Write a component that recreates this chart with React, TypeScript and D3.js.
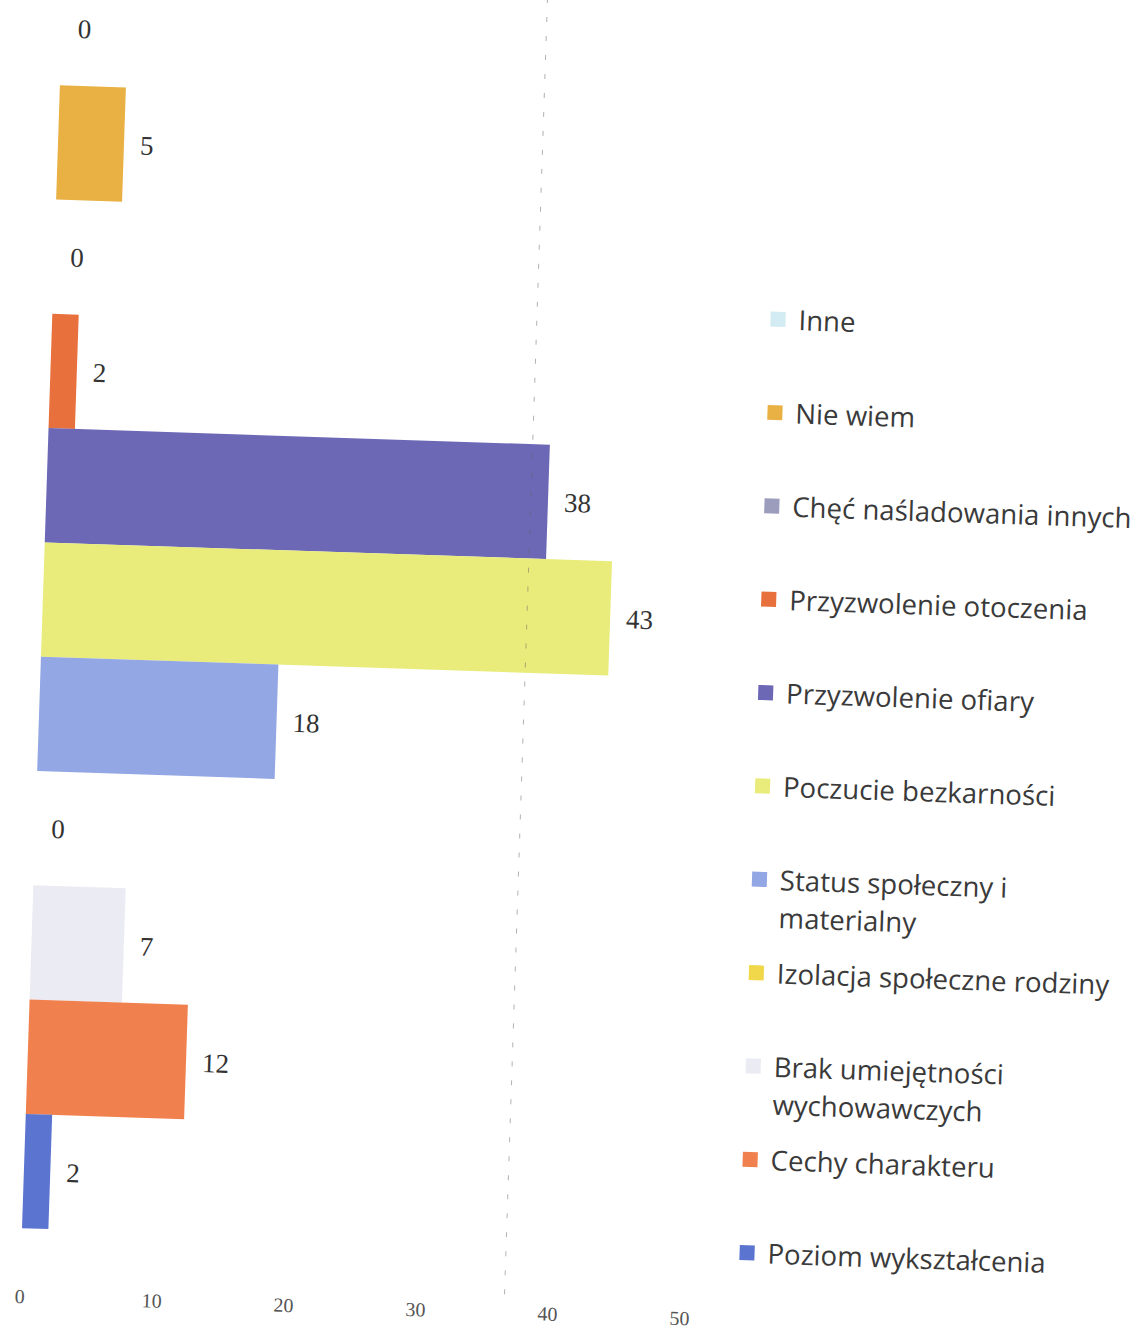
import React, { useEffect, useRef } from 'react';
import * as d3 from 'd3';

const categories = [
  'Inne',
  'Nie wiem',
  'Chęć naśladowania innych',
  'Przyzwolenie otoczenia',
  'Przyzwolenie ofiary',
  'Poczucie bezkarności',
  'Status społeczny i materialny',
  'Izolacja społeczne rodziny',
  'Brak umiejętności wychowawczych',
  'Cechy charakteru',
  'Poziom wykształcenia',
];
const values = [0, 5, 0, 2, 38, 43, 18, 0, 7, 12, 2];
const colors = [
  '#d3ebf3', '#e9b044', '#9c9cbc', '#e8703c', '#6c68b6', '#e9ec7a',
  '#92a7e3', '#f0d84a', '#ebebf3', '#f0814e', '#5a74d0',
];
// legend labels wrapped the way the reference shows them
const legendLines = [
  ['Inne'],
  ['Nie wiem'],
  ['Chęć naśladowania innych'],
  ['Przyzwolenie otoczenia'],
  ['Przyzwolenie ofiary'],
  ['Poczucie bezkarności'],
  ['Status społeczny i', 'materialny'],
  ['Izolacja społeczne rodziny'],
  ['Brak umiejętności', 'wychowawczych'],
  ['Cechy charakteru'],
  ['Poziom wykształcenia'],
];
const ticks = [0, 10, 20, 30, 40, 50];
const foldLineValue = 36.7;

const W = 1136;
const H = 1329;

const App: React.FC = () => {
  const svgRef = useRef<SVGSVGElement>(null);

  useEffect(() => {
    document.body.style.margin = '0';
    if (!svgRef.current) return;
    const svg = d3.select(svgRef.current);
    svg.selectAll('*').remove();

    // scan is tilted ~1.9deg clockwise
    const root = svg.append('g')
      .attr('transform', 'rotate(1.9, 568, 664)');

    const x = d3.scaleLinear().domain([0, 50]).range([41, 701]);
    const y = d3.scaleBand<string>().domain(categories).range([-12, 1246]).padding(0);

    root.selectAll('.bar')
      .data(categories)
      .enter().append('rect')
      .attr('class', 'bar')
      .attr('x', x(0))
      .attr('y', d => y(d)!)
      .attr('width', (d, i) => x(values[i]) - x(0))
      .attr('height', y.bandwidth())
      .attr('fill', (d, i) => colors[i]);

    // value labels
    root.selectAll('.val')
      .data(categories)
      .enter().append('text')
      .attr('class', 'val')
      .attr('x', (d, i) => x(values[i]) + 16)
      .attr('y', d => y(d)! + y.bandwidth() / 2)
      .attr('dy', '0.35em')
      .style('font-family', '"Liberation Serif", "DejaVu Serif", serif')
      .style('font-size', '27px')
      .style('fill', '#333')
      .text((d, i) => values[i]);

    // faint dashed line from the scan
    root.append('line')
      .attr('x1', x(foldLineValue))
      .attr('x2', x(foldLineValue))
      .attr('y1', -20)
      .attr('y2', 1300)
      .attr('stroke', '#666')
      .attr('stroke-width', 1)
      .attr('stroke-dasharray', '5 14')
      .attr('opacity', 0.5);

    // axis tick labels
    root.selectAll('.tick')
      .data(ticks)
      .enter().append('text')
      .attr('class', 'tick')
      .attr('x', d => x(d))
      .attr('y', 1314)
      .attr('dy', '0.35em')
      .attr('text-anchor', 'middle')
      .style('font-family', '"Liberation Serif", "DejaVu Serif", serif')
      .style('font-size', '20px')
      .style('fill', '#555')
      .text(d => d);

    // legend
    const legendY = d3.scalePoint<string>().domain(categories).range([313, 1247]);
    const lg = root.selectAll('.lg')
      .data(categories)
      .enter().append('g')
      .attr('class', 'lg')
      .attr('transform', d => `translate(759, ${legendY(d)})`);

    lg.append('rect')
      .attr('x', 0)
      .attr('y', -8)
      .attr('width', 15)
      .attr('height', 15)
      .attr('fill', (d, i) => colors[i]);

    lg.append('text')
      .attr('x', 28)
      .attr('y', 0)
      .style('font-family', '"Open Sans", "Noto Sans", sans-serif')
      .style('font-size', '27.6px')
      .style('fill', '#3a3a3a')
      .each(function (d, i) {
        const t = d3.select(this);
        legendLines[i].forEach((line, j) => {
          t.append('tspan')
            .attr('x', 28)
            .attr('dy', j === 0 ? '0.35em' : '1.37em')
            .text(line);
        });
      });
  }, []);

  return <svg ref={svgRef} width={W} height={H} style={{ display: 'block' }} />;
};

export default App;
